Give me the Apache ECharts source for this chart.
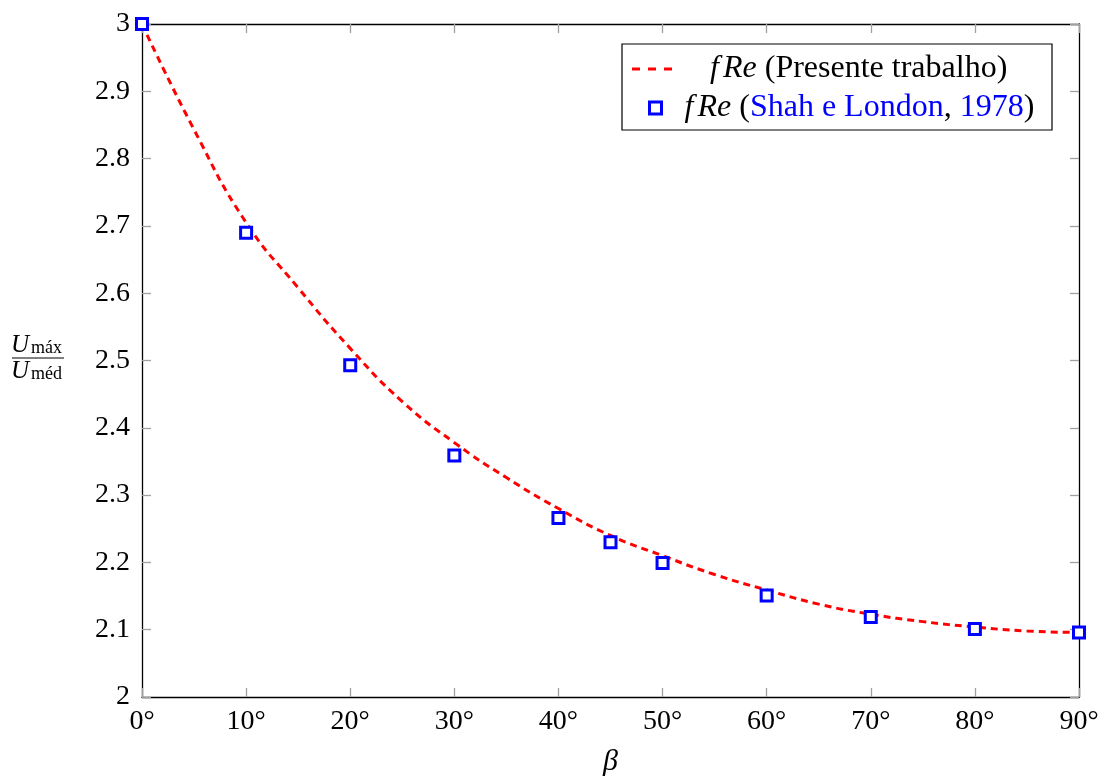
<!DOCTYPE html>
<html>
<head>
<meta charset="utf-8">
<script src="https://cdn.jsdelivr.net/npm/echarts@6/dist/echarts.min.js"></script>
<style>
html,body{margin:0;padding:0;background:#fff;}
#c{width:1105px;height:782px;}
</style>
</head>
<body>
<div id="c"></div>
<script>
// Data
const betaPoints = [0, 10, 20, 30, 40, 45, 50, 60, 70, 80, 90];
const shahLondon = [3.000, 2.690, 2.493, 2.359, 2.266, 2.230, 2.199, 2.151, 2.119, 2.101, 2.096];
const betaCurve = [0, 5, 10, 15, 20, 25, 30, 35, 40, 45, 50, 55, 60, 65, 70, 75, 80, 85, 90];
const presente = [3.000, 2.843, 2.705, 2.608, 2.518, 2.439, 2.378, 2.326, 2.280, 2.240, 2.210, 2.182, 2.159, 2.138, 2.123, 2.112, 2.104, 2.098, 2.096];
const xTicks = [0, 10, 20, 30, 40, 50, 60, 70, 80, 90];
const yTicks = [2, 2.1, 2.2, 2.3, 2.4, 2.5, 2.6, 2.7, 2.8, 2.9, 3];
const nameLine = 'fRe (Presente trabalho)';
const namePts = 'fRe (Shah e London, 1978)';

const chart = echarts.init(document.getElementById('c'), null, {renderer: 'canvas'});
const serif = '"Liberation Serif", "DejaVu Serif", serif';
const tickColor = '#a0a0a0';
const LF = 32;

const baseX = {
  type: 'value', min: 0, max: 90, interval: 10,
  axisLine: {show: true, onZero: false, lineStyle: {color: '#000', width: 1.3}},
  axisTick: {show: true, inside: true, length: 9, lineStyle: {color: tickColor, width: 1.3}},
  splitLine: {show: false}
};
const baseY = {
  type: 'value', min: 2, max: 3, interval: 0.1,
  axisLine: {show: true, onZero: false, lineStyle: {color: '#000', width: 1.3}},
  axisTick: {show: true, inside: true, length: 9, lineStyle: {color: tickColor, width: 1.3}},
  splitLine: {show: false}
};
const richLegend = {
  s1: {width: 33},
  s2: {width: 18},
  f: {fontFamily: serif, fontStyle: 'italic', fontSize: LF, color: '#000', lineHeight: 32, width: 13},
  i: {fontFamily: serif, fontStyle: 'italic', fontSize: LF, color: '#000', lineHeight: 32},
  t: {fontFamily: serif, fontSize: LF, color: '#000', lineHeight: 32},
  b: {fontFamily: serif, fontSize: LF, color: '#0000ff', lineHeight: 32}
};

chart.setOption({
  animation: false,
  backgroundColor: '#fff',
  grid: {left: 142, right: 26, top: 24, bottom: 84, containLabel: false},
  xAxis: [
    Object.assign({}, baseX, {
      position: 'bottom',
      axisLabel: {show: true, margin: 11, fontFamily: serif, fontSize: 28, color: '#000',
        formatter: v => v + '°'},
      name: 'β', nameLocation: 'middle', nameGap: 50,
      nameTextStyle: {fontFamily: serif, fontStyle: 'italic', fontSize: 30, color: '#000'}
    }),
    Object.assign({}, baseX, {position: 'top', axisLabel: {show: false}})
  ],
  yAxis: [
    Object.assign({}, baseY, {
      position: 'left',
      axisLabel: {show: true, margin: 12, fontFamily: serif, fontSize: 28, color: '#000',
        formatter: v => String(Math.round(v * 10) / 10)}
    }),
    Object.assign({}, baseY, {position: 'right', axisLabel: {show: false}})
  ],
  legend: [
    {
      left: 632, top: 53, padding: 0,
      itemWidth: 40, itemHeight: 3,
      data: [{name: nameLine,
        icon: 'path://M0,0 L8,0 L8,3 L0,3 Z M16,0 L24,0 L24,3 L16,3 Z M32,0 L40,0 L40,3 L32,3 Z',
        itemStyle: {color: '#ff0000', borderWidth: 0}}],
      formatter: () => '{s1|}{f|f}{i|Re} {t|(Presente trabalho)}',
      textStyle: {fontFamily: serif, fontSize: LF, lineHeight: 32, color: '#000', rich: richLegend}
    },
    {
      left: 648, top: 92, padding: 0,
      itemWidth: 12, itemHeight: 12,
      data: [{name: namePts, icon: 'rect',
        itemStyle: {color: '#ffffff', borderColor: '#0000ff', borderWidth: 3}}],
      formatter: () => '{s2|}{f|f}{i|Re} {t|(}{b|Shah e London}{t|, }{b|1978}{t|)}',
      textStyle: {fontFamily: serif, fontSize: LF, lineHeight: 32, color: '#000', rich: richLegend}
    }
  ],
  graphic: [
    {type: 'rect', shape: {x: 622, y: 44, width: 430, height: 86},
     style: {fill: 'none', stroke: '#000', lineWidth: 1.2}, z: 5},
    {type: 'text', left: 11, top: 333, style: {text: 'U', font: 'italic 25px "Liberation Serif"', fill: '#000'}},
    {type: 'text', left: 31, top: 339, style: {text: 'máx', font: '18px "Liberation Serif"', fill: '#000'}},
    {type: 'line', shape: {x1: 12, y1: 358, x2: 64, y2: 358}, style: {stroke: '#000', lineWidth: 1}},
    {type: 'text', left: 11, top: 359, style: {text: 'U', font: 'italic 25px "Liberation Serif"', fill: '#000'}},
    {type: 'text', left: 31, top: 365, style: {text: 'méd', font: '18px "Liberation Serif"', fill: '#000'}}
  ],
  series: [
    {
      name: nameLine, type: 'line', smooth: true, symbol: 'none',
      data: betaCurve.map((b, i) => [b, presente[i]]),
      lineStyle: {color: '#ff0000', width: 3, type: [7, 5]},
      itemStyle: {color: '#ff0000'},
      z: 2
    },
    {
      name: namePts, type: 'scatter', symbol: 'rect', symbolSize: 11,
      data: betaPoints.map((b, i) => [b, shahLondon[i]]),
      itemStyle: {color: '#ffffff', borderColor: '#0000ff', borderWidth: 3, opacity: 1},
      z: 3
    }
  ]
});
</script>
</body>
</html>
